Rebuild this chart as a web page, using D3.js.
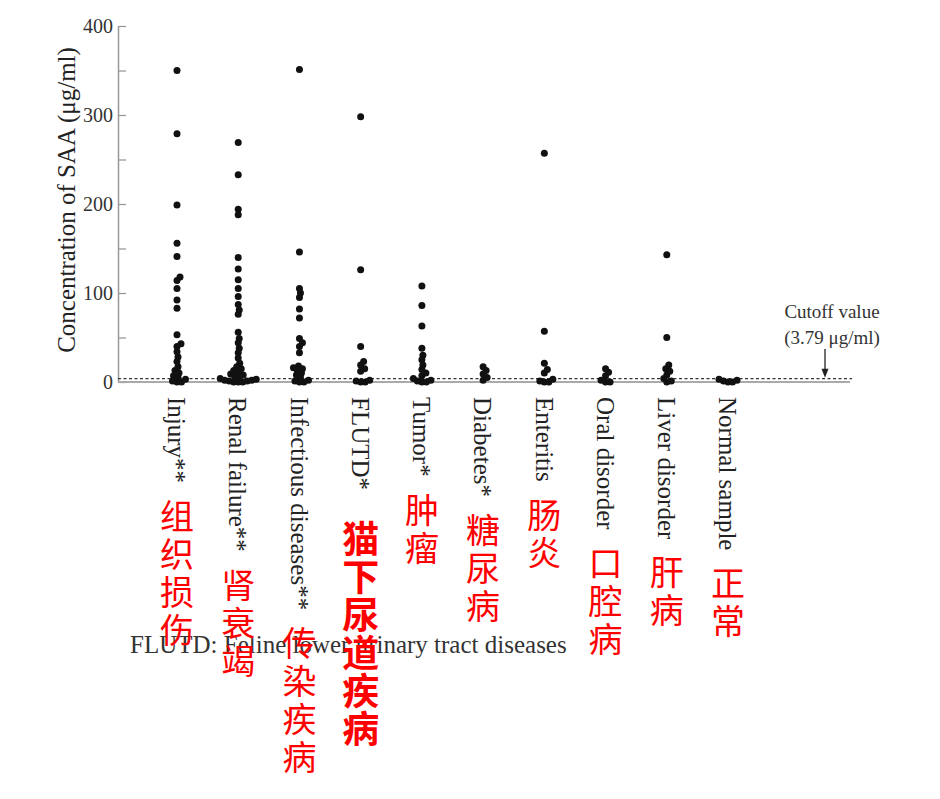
<!DOCTYPE html>
<html>
  <head>
    <meta charset="utf-8">
    <style>
      body { margin: 0; background: #fff; }
      text { font-family: "Liberation Serif", "DejaVu Serif", serif; }
      .cn { font-family: "Noto Sans CJK SC", sans-serif; fill: #ff0000; }
    </style>
  </head>
  <body>
    <svg></svg>
    <script src="https://d3js.org/d3.v7.min.js"></script>
    <script type="text/javascript">

      // categories as printed under the axis, with the red Chinese notes
      var categories = ["Injury", "Renal", "Infectious", "FLUTD", "Tumor", "Diabetes", "Enteritis", "Oral", "Liver", "Normal"]
      var englishLabels = ["Injury**", "Renal failure**", "Infectious diseases**", "FLUTD*", "Tumor*", "Diabetes*", "Enteritis", "Oral disorder", "Liver disorder", "Normal sample"]
      var chineseLabels = ["组织损伤", "肾衰竭", "传染疾病", "猫下尿道疾病", "肿瘤", "糖尿病", "肠炎", "口腔病", "肝病", "正常"]

      // SAA concentration (µg/ml) of each cat
      var injuryValues = [350, 279, 199, 156, 141, 118, 114, 105, 92, 83, 53, 43, 40, 34, 28, 23, 17, 13, 10, 7, 5, 3, 1, 0, 0]
      var renalValues = [269, 233, 194, 188, 140, 127, 115, 105, 96, 87, 81, 76, 56, 49, 44, 38, 33, 27, 21, 17, 15, 13, 11, 9, 8, 6, 5, 4, 3, 2, 2, 1, 1, 0, 0, 0]
      var infectiousValues = [351, 146, 105, 100, 95, 82, 72, 49, 44, 40, 33, 18, 16, 15, 13, 10, 8, 5, 2, 1, 0, 0]
      var flutdValues = [298, 126, 40, 23, 19, 15, 12, 2, 1, 0, 0]
      var tumorValues = [108, 86, 63, 38, 30, 25, 19, 14, 10, 7, 4, 2, 1, 0, 0]
      var diabetesValues = [17, 13, 9, 5, 2]
      var enteritisValues = [257, 57, 21, 14, 10, 3, 1, 0, 0]
      var oralValues = [15, 11, 7, 2, 0, 0]
      var liverValues = [143, 50, 19, 15, 12, 8, 4, 1, 0]
      var normalValues = [3, 2, 1, 0, 0]

      var seriesValues = [injuryValues, renalValues, infectiousValues, flutdValues, tumorValues,
                          diabetesValues, enteritisValues, oralValues, liverValues, normalValues]

      var majorTicks = [0, 100, 200, 300, 400]
      var minorTicks = [50, 150, 250, 350]
      var cutoff = 3.79
      var footnote = "FLUTD: Feline lower urinary tract diseases"

      var svgWidth = 940, svgHeight = 799
      var axisLeftX = 118, axisRightX = 850
      var dotR = 3.5

      var svg = d3.select("svg")
        .attr("width", svgWidth)
        .attr("height", svgHeight)

      var y = d3.scaleLinear()
        .domain([0, 400])
        .range([382, 26])

      var x = d3.scalePoint()
        .domain(categories)
        .range([177, 728])

      // y axis, ticks pointing inwards
      var yAxis = svg.append("g")
        .attr("transform", "translate(" + axisLeftX + ",0)")
        .call(d3.axisLeft(y)
          .tickValues(majorTicks.concat(minorTicks))
          .tickSize(-8)
          .tickSizeOuter(0)
          .tickPadding(5)
          .tickFormat(d => majorTicks.includes(d) ? d : ""))

      yAxis.select(".domain").attr("stroke", "#999").attr("stroke-width", 1.5)
      yAxis.selectAll(".tick line").attr("stroke", "#999").attr("stroke-width", 1.3)
      yAxis.selectAll(".tick text")
        .attr("font-family", "Liberation Serif")
        .attr("font-size", 20)
        .attr("fill", "#333")

      svg.append("text")
        .attr("transform", "translate(66,200) rotate(-90)")
        .attr("text-anchor", "middle")
        .attr("dy", "0.35em")
        .attr("font-size", 25)
        .attr("fill", "#222")
        .text("Concentration of SAA (μg/ml)")

      // baseline and cutoff
      svg.append("line")
        .attr("x1", axisLeftX).attr("x2", axisRightX)
        .attr("y1", y(0)).attr("y2", y(0))
        .attr("stroke", "#aaa")
        .attr("stroke-width", 2)

      svg.append("line")
        .attr("x1", axisLeftX).attr("x2", axisRightX + 2)
        .attr("y1", y(cutoff)).attr("y2", y(cutoff))
        .attr("stroke", "#333")
        .attr("stroke-width", 1.4)
        .attr("stroke-dasharray", "3,2.5")

      // simple beeswarm: lowest values first, each dot pushed sideways until it fits
      // (dots may overlap a little, like in the printed figure)
      function dodge(values) {
        var minD = 4.5
        var placed = []
        values.slice().sort((a, b) => a - b).forEach(v => {
          var cy = y(v), dx = 0
          for (var k = 0; k < 400; k++) {
            var cand = k === 0 ? 0 : (k % 2 ? 1 : -1) * Math.ceil(k / 2) * 0.5
            var ok = placed.every(p => (p.dx - cand) * (p.dx - cand) + (p.cy - cy) * (p.cy - cy) >= minD * minD)
            if (ok) { dx = cand; break }
          }
          placed.push({ v: v, cy: cy, dx: dx })
        })
        return placed
      }

      categories.forEach((c, i) => {
        svg.append("g")
          .selectAll("circle")
          .data(dodge(seriesValues[i]))
          .join("circle")
          .attr("cx", d => x(c) + d.dx)
          .attr("cy", d => d.cy)
          .attr("r", dotR)
          .attr("fill", "#111")
      })

      // footnote goes under the red notes
      svg.append("text")
        .attr("x", 130)
        .attr("y", 653)
        .attr("font-size", 25)
        .attr("fill", "#333")
        .text(footnote)

      // rotated English names, then the vertical Chinese notes below them
      var labelTop = y(0) + 15
      categories.forEach((c, i) => {
        var t = svg.append("text")
          .attr("transform", "translate(" + x(c) + "," + labelTop + ") rotate(90)")
          .attr("dy", "0.35em")
          .attr("font-size", 25)
          .attr("fill", "#222")
          .text(englishLabels[i])

        var end = labelTop + t.node().getComputedTextLength()
        var bold = c === "FLUTD"
        var fs = bold ? 37 : 34
        var pitch = 38
        var gap = bold ? 30 : 16

        var cn = svg.append("text")
          .attr("class", "cn")
          .attr("text-anchor", "middle")
          .attr("font-size", fs)
          .attr("font-weight", bold ? 700 : 400)

        Array.from(chineseLabels[i]).forEach((ch, j) => {
          cn.append("tspan")
            .attr("x", x(c))
            .attr("y", end + gap + fs * 0.88 + j * pitch)
            .text(ch)
        })
      })

      // cutoff annotation on the right
      var arrowX = axisRightX - 25
      svg.append("text")
        .attr("x", arrowX + 7)
        .attr("y", 318)
        .attr("text-anchor", "middle")
        .attr("font-size", 19)
        .attr("fill", "#333")
        .text("Cutoff value")

      svg.append("text")
        .attr("x", arrowX + 7)
        .attr("y", 344)
        .attr("text-anchor", "middle")
        .attr("font-size", 19)
        .attr("fill", "#333")
        .text("(3.79 μg/ml)")

      svg.append("line")
        .attr("x1", arrowX).attr("x2", arrowX)
        .attr("y1", 349).attr("y2", y(cutoff) - 8)
        .attr("stroke", "#222")
        .attr("stroke-width", 1.3)

      svg.append("path")
        .attr("d", "M" + (arrowX - 3.5) + "," + (y(cutoff) - 10) + "L" + (arrowX + 3.5) + "," + (y(cutoff) - 10) + "L" + arrowX + "," + (y(cutoff) - 1) + "Z")
        .attr("fill", "#222")

    </script>
  </body>
</html>
